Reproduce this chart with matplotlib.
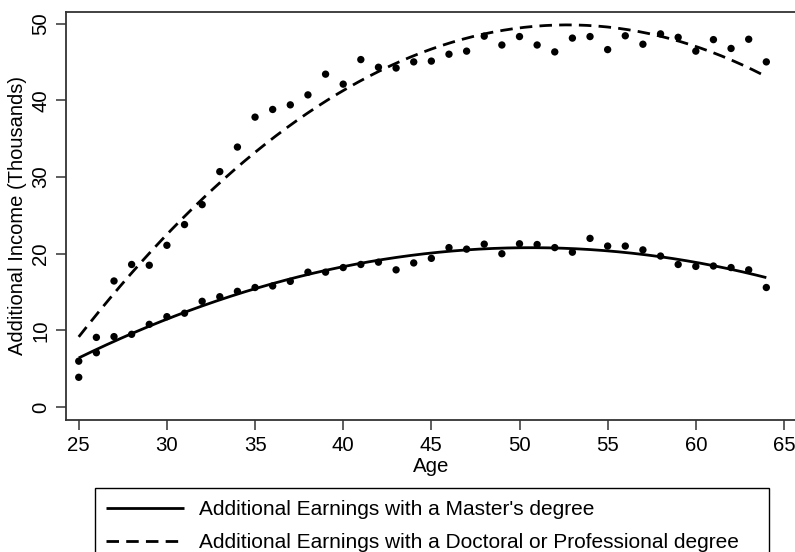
import numpy as np
import matplotlib
matplotlib.use("Agg")
import matplotlib.pyplot as plt

plt.rcParams['font.family'] = ['Liberation Sans', 'DejaVu Sans']

ages = list(range(25, 65))

masters = [6.0, 7.1, 9.2, 9.5, 10.8, 11.8, 12.25, 13.8, 14.4, 15.1,
           15.6, 15.8, 16.4, 17.6, 17.6, 18.2, 18.6, 18.9, 17.9, 18.8,
           19.4, 20.8, 20.6, 21.25, 20.0, 21.3, 21.2, 20.8, 20.2, 22.0,
           21.0, 21.0, 20.5, 19.7, 18.6, 18.35, 18.4, 18.2, 17.9, 15.6]

doctoral = [3.9, 9.1, 16.45, 18.6, 18.5, 21.1, 23.8, 26.4, 30.7, 33.9,
            37.8, 38.8, 39.4, 40.7, 43.4, 42.1, 45.3, 44.3, 44.2, 45.0,
            45.1, 46.0, 46.4, 48.35, 47.2, 48.3, 47.2, 46.3, 48.1, 48.3,
            46.6, 48.4, 47.3, 48.65, 48.2, 46.4, 47.9, 46.75, 47.95, 45.0]

x_ticks = [25, 30, 35, 40, 45, 50, 55, 60, 65]
y_ticks = [0, 10, 20, 30, 40, 50]

label_ma = "Additional Earnings with a Master's degree"
label_phd = "Additional Earnings with a Doctoral or Professional degree"

W, H = 795, 552
fig = plt.figure(figsize=(W / 100, H / 100), dpi=100)
left, right, top, bottom = 65.7, 797.0, 12.0, 419.5
ax = fig.add_axes([left / W, 1 - bottom / H, (right - left) / W, (bottom - top) / H])

age_arr = np.array(ages, dtype=float)
grid = np.linspace(min(ages), max(ages), 200)

# quadratic fits through each set of points
fit_ma = np.polyval(np.polyfit(age_arr, masters, 2), grid)
fit_phd = np.polyval(np.polyfit(age_arr, doctoral, 2), grid)

line_ma, = ax.plot(grid, fit_ma, color='black', lw=2.0, solid_capstyle='butt', zorder=2)
line_phd, = ax.plot(grid, fit_phd, color='black', lw=2.0, dashes=(4.5, 2.6), zorder=2)

ax.scatter(ages, masters, s=28, color='black', edgecolors='none', zorder=3)
ax.scatter(ages, doctoral, s=28, color='black', edgecolors='none', zorder=3)

ax.set_xlim(24.26, 65.74)
ax.set_ylim(-1.6, 51.5)
ax.set_xticks(x_ticks)
ax.set_yticks(y_ticks)
ax.set_yticklabels([str(v) for v in y_ticks], rotation=90, va='center')

for s in ax.spines.values():
    s.set_color('#333333')
    s.set_linewidth(1.3)
ax.tick_params(axis='both', direction='out', length=7, width=1.1, color='#333333',
               labelsize=14.7)
ax.tick_params(axis='x', pad=5)
ax.tick_params(axis='y', pad=4)

ax.set_xlabel('Age', fontsize=14.7, labelpad=1)
ax.set_ylabel('Additional Income (Thousands)', fontsize=14.5, labelpad=3)

leg = fig.legend([line_ma, line_phd], [label_ma, label_phd],
                 loc='upper left', mode='expand',
                 bbox_to_anchor=(95 / W, 1 - 489 / H, (769 - 95) / W, 0.001),
                 fontsize=15, frameon=True, fancybox=False, framealpha=1,
                 edgecolor='black', handlelength=3.7, handletextpad=0.75,
                 borderpad=0.55, labelspacing=0.7, borderaxespad=0)
leg.get_frame().set_linewidth(1.0)

fig.savefig('out.png', dpi=100)
